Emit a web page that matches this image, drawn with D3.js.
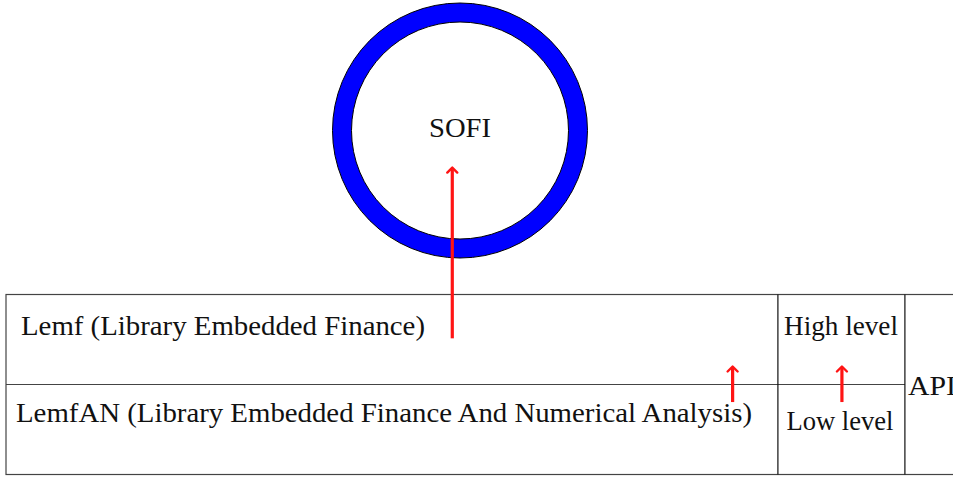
<!DOCTYPE html>
<html><head><meta charset="utf-8">
<script src="https://cdn.jsdelivr.net/npm/d3@7"></script>
<style>body{margin:0;background:#fff}svg{display:block}</style>
</head><body>
<script>
// Diagram content
const centerLabel = "SOFI";
const rowLabels = ["Lemf (Library Embedded Finance)", "LemfAN (Library Embedded Finance And Numerical Analysis)"];
const levelLabels = ["High level", "Low level"];
const sideLabel = "API";
// arrows in table units: x as % of table width, y in row units (0 = table top, 1 = middle line)
const arrowX = [42.87, 69.8, 80.3];
const arrowFrom = [0.487, 1.195, 1.195];
const arrowTo = [-1.41, 0.80, 0.80];

const W = 953, H = 477;
const FONT = '"Liberation Serif", "Times New Roman", serif';
const svg = d3.select("body").append("svg").attr("width", W).attr("height", H);

// scales: table column units -> px, row units -> px
const x = d3.scaleLinear().domain([0, 100]).range([6, 1047]);
const y = d3.scaleLinear().domain([0, 2]).range([294.5, 474.5]);
const colEdges = [0, 74.15, 86.35];

// circle
const cx = 460, cy = 130.5, rOut = 127.5, rIn = 108.5;
const arc = d3.arc().innerRadius(rIn).outerRadius(rOut).startAngle(0).endAngle(2 * Math.PI);
svg.append("path").attr("d", arc()).attr("transform", `translate(${cx},${cy})`)
  .attr("fill", "#0000ff").attr("stroke", "#000").attr("stroke-width", 1);

function label(t, px, py, len, anchor) {
  svg.append("text").attr("x", px).attr("y", py).attr("text-anchor", anchor || "start")
    .style("font-family", FONT).style("font-size", "28px").style("fill", "#111")
    .attr("textLength", len).attr("lengthAdjust", "spacingAndGlyphs").text(t);
}
label(centerLabel, cx, 136.5, 62, "middle");

// table
const g = svg.append("g").attr("fill", "none").attr("stroke", "#444").attr("stroke-width", 1.2);
g.append("rect").attr("x", x(0)).attr("y", y(0)).attr("width", x(100) - x(0)).attr("height", y(2) - y(0));
g.append("line").attr("x1", x(0)).attr("x2", x(colEdges[2])).attr("y1", y(1)).attr("y2", y(1));
colEdges.slice(1).forEach(c => g.append("line").attr("x1", x(c)).attr("x2", x(c)).attr("y1", y(0)).attr("y2", y(2)).attr("stroke", "#111"));

label(rowLabels[0], 21, 334.5, 404);
label(rowLabels[1], 16, 422, 736);
label(levelLabels[0], 841, 334.5, 114, "middle");
label(levelLabels[1], 840, 430, 107, "middle");
label(sideLabel, 908, 394.5, 48);

// arrows
const yA = d3.scaleLinear().domain([0, 1]).range([y(0), y(1)]);
const ag = svg.append("g");
arrowX.forEach((ax, i) => {
  const px = x(ax);
  const y1 = yA(arrowFrom[i]), y2 = yA(arrowTo[i]);
  ag.append("line").attr("x1", px).attr("x2", px).attr("y1", y1).attr("y2", y2 + 1.5)
    .attr("stroke", "#ff1414").attr("stroke-width", 3.2);
  ag.append("path").attr("d", `M${px - 5},${y2 + 5} L${px},${y2} L${px + 5},${y2 + 5}`)
    .attr("fill", "none").attr("stroke", "#ff1414").attr("stroke-width", 2.4)
    .attr("stroke-linecap", "round").attr("stroke-linejoin", "round");
});
</script>
</body></html>
